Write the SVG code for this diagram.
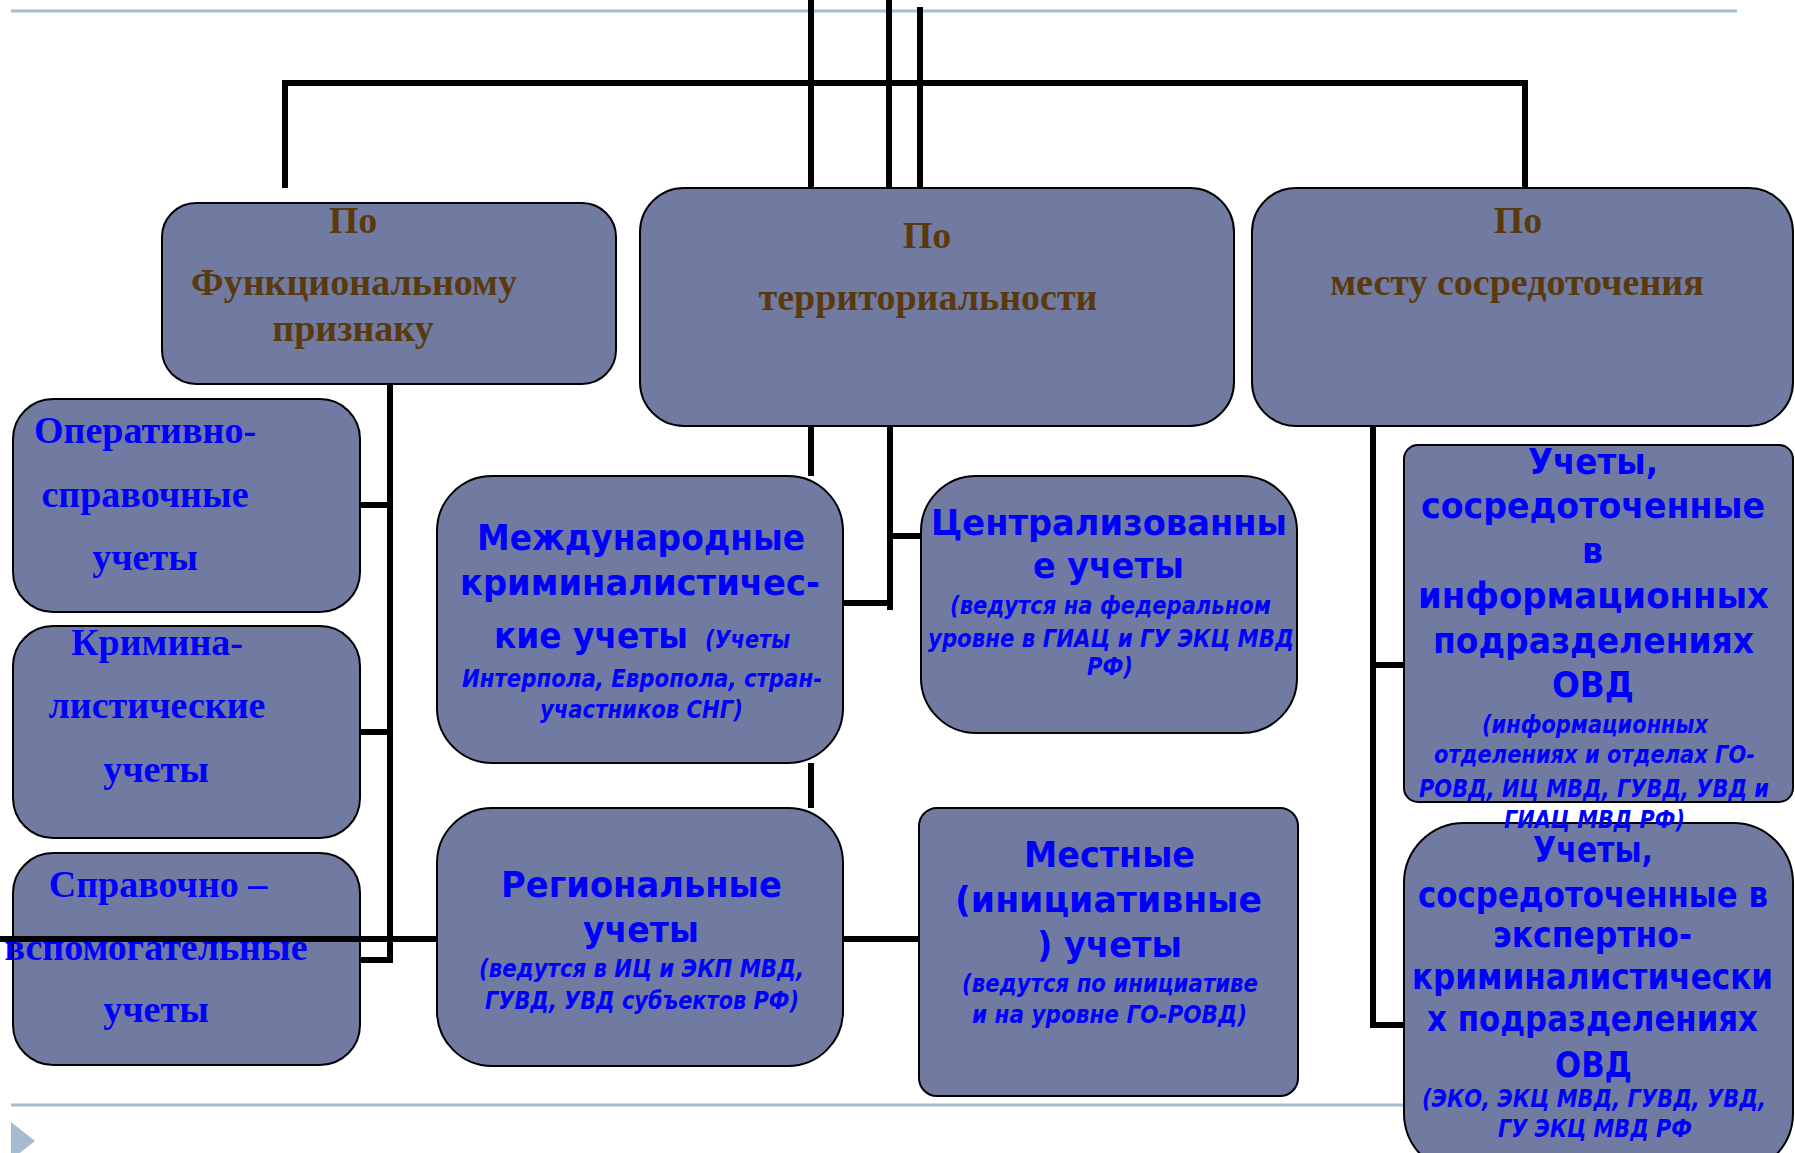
<svg xmlns="http://www.w3.org/2000/svg" width="1795" height="1153" viewBox="0 0 1795 1153">
<style>
.box{fill:#717ba1;stroke:#000;stroke-width:2}
.deco{stroke:#a5bbcf;stroke-width:3;fill:none}
.ttl{font-family:"Liberation Serif","Times New Roman",serif;font-weight:bold;font-size:38px;fill:#5a3a0c;text-anchor:middle}
.ser{font-family:"Liberation Serif","Times New Roman",serif;font-weight:bold;font-size:38px;fill:#0000ff;text-anchor:middle}
.b{font-family:"DejaVu Sans",Verdana,sans-serif;font-weight:bold;font-size:35px;fill:#0000ff}
.i{font-family:"DejaVu Sans",Verdana,sans-serif;font-weight:bold;font-style:italic;font-size:24px;fill:#0000ff}
.c{stroke:#000;stroke-width:6;fill:none}
</style>
<rect width="1795" height="1153" fill="#fff"/>
<g id="decor">
<line class="deco" x1="11" y1="11" x2="1737" y2="11"/>
<line class="deco" x1="11" y1="1105" x2="1737" y2="1105"/>
<polygon points="11,1122 35,1141 11,1160" fill="#a5bbcf"/>
</g>
<g id="node-func">
<rect class="box" x="162" y="203" width="454" height="181" rx="34"/>
<text class="ttl" x="353" y="233">По</text>
<text class="ttl" x="354" y="295">Функциональному</text>
<text class="ttl" x="353" y="341">признаку</text>
</g>
<g id="node-terr">
<rect class="box" x="640" y="188" width="594" height="238" rx="44"/>
<text class="ttl" x="927" y="248">По</text>
<text class="ttl" x="928" y="310">территориальности</text>
</g>
<g id="node-place">
<rect class="box" x="1252" y="188" width="541" height="238" rx="44"/>
<text class="ttl" x="1518" y="233">По</text>
<text class="ttl" x="1517" y="295">месту сосредоточения</text>
</g>
<g id="node-oper">
<rect class="box" x="13" y="399" width="347" height="213" rx="40"/>
<text class="ser" x="145" y="443">Оперативно-</text>
<text class="ser" x="145" y="507">справочные</text>
<text class="ser" x="145" y="570">учеты</text>
</g>
<g id="node-krim">
<rect class="box" x="13" y="626" width="347" height="212" rx="40"/>
<text class="ser" x="157" y="655">Кримина-</text>
<text class="ser" x="157" y="718">листические</text>
<text class="ser" x="156" y="782">учеты</text>
</g>
<g id="node-sprav">
<rect class="box" x="13" y="853" width="347" height="212" rx="40"/>
<text class="ser" x="158" y="897">Справочно –</text>
<text class="ser" x="156" y="960">вспомогательные</text>
<text class="ser" x="156" y="1022">учеты</text>
</g>
<g id="node-intl">
<rect class="box" x="437" y="476" width="406" height="287" rx="55"/>
<text class="b" x="477" y="550" textLength="328" lengthAdjust="spacingAndGlyphs">Международные</text>
<text class="b" x="460" y="595" textLength="360" lengthAdjust="spacingAndGlyphs">криминалистичес-</text>
<text class="b" x="494" y="648" textLength="194" lengthAdjust="spacingAndGlyphs">кие учеты</text>
<text class="i" x="705" y="648" textLength="85" lengthAdjust="spacingAndGlyphs">(Учеты</text>
<text class="i" x="462" y="687" textLength="360" lengthAdjust="spacingAndGlyphs">Интерпола, Европола, стран-</text>
<text class="i" x="540" y="718" textLength="203" lengthAdjust="spacingAndGlyphs">участников СНГ)</text>
</g>
<g id="node-central">
<rect class="box" x="921" y="476" width="376" height="257" rx="55"/>
<text class="b" x="931" y="535" textLength="356" lengthAdjust="spacingAndGlyphs">Централизованны</text>
<text class="b" x="1033" y="578" textLength="151" lengthAdjust="spacingAndGlyphs">е учеты</text>
<text class="i" x="950" y="614" textLength="321" lengthAdjust="spacingAndGlyphs">(ведутся на федеральном</text>
<text class="i" x="928" y="647" textLength="366" lengthAdjust="spacingAndGlyphs">уровне в ГИАЦ и ГУ ЭКЦ МВД</text>
<text class="i" x="1087" y="675" textLength="46" lengthAdjust="spacingAndGlyphs">РФ)</text>
</g>
<g id="node-region">
<rect class="box" x="437" y="808" width="406" height="258" rx="55"/>
<text class="b" x="501" y="897" textLength="281" lengthAdjust="spacingAndGlyphs">Региональные</text>
<text class="b" x="583" y="942" textLength="116" lengthAdjust="spacingAndGlyphs">учеты</text>
<text class="i" x="479" y="977" textLength="325" lengthAdjust="spacingAndGlyphs">(ведутся в ИЦ и ЭКП МВД,</text>
<text class="i" x="485" y="1009" textLength="314" lengthAdjust="spacingAndGlyphs">ГУВД, УВД субъектов РФ)</text>
</g>
<g id="node-local">
<rect class="box" x="919" y="808" width="379" height="288" rx="18"/>
<text class="b" x="1024" y="867" textLength="171" lengthAdjust="spacingAndGlyphs">Местные</text>
<text class="b" x="955" y="912" textLength="307" lengthAdjust="spacingAndGlyphs">(инициативные</text>
<text class="b" x="1037" y="957" textLength="145" lengthAdjust="spacingAndGlyphs">) учеты</text>
<text class="i" x="962" y="992" textLength="296" lengthAdjust="spacingAndGlyphs">(ведутся по инициативе</text>
<text class="i" x="972" y="1023" textLength="275" lengthAdjust="spacingAndGlyphs">и на уровне ГО-РОВД)</text>
</g>
<g id="node-expert">
<rect class="box" x="1404" y="823" width="389" height="350" rx="60"/>
<text class="b" x="1533" y="862" textLength="120" lengthAdjust="spacingAndGlyphs">Учеты,</text>
<text class="b" x="1418" y="907" textLength="350" lengthAdjust="spacingAndGlyphs">сосредоточенные в</text>
<text class="b" x="1493" y="947" textLength="199" lengthAdjust="spacingAndGlyphs">экспертно-</text>
<text class="b" x="1412" y="989" textLength="361" lengthAdjust="spacingAndGlyphs">криминалистически</text>
<text class="b" x="1427" y="1031" textLength="331" lengthAdjust="spacingAndGlyphs">х подразделениях</text>
<text class="b" x="1555" y="1077" textLength="77" lengthAdjust="spacingAndGlyphs">ОВД</text>
<text class="i" x="1422" y="1107" textLength="344" lengthAdjust="spacingAndGlyphs">(ЭКО, ЭКЦ МВД, ГУВД, УВД,</text>
<text class="i" x="1498" y="1137" textLength="194" lengthAdjust="spacingAndGlyphs">ГУ ЭКЦ МВД РФ</text>
</g>
<g id="node-info">
<rect class="box" x="1404" y="445" width="389" height="357" rx="14"/>
<text class="b" x="1528" y="474" textLength="130" lengthAdjust="spacingAndGlyphs">Учеты,</text>
<text class="b" x="1421" y="518" textLength="344" lengthAdjust="spacingAndGlyphs">сосредоточенные</text>
<text class="b" x="1582" y="563" textLength="21" lengthAdjust="spacingAndGlyphs">в</text>
<text class="b" x="1418" y="608" textLength="351" lengthAdjust="spacingAndGlyphs">информационных</text>
<text class="b" x="1433" y="653" textLength="321" lengthAdjust="spacingAndGlyphs">подразделениях</text>
<text class="b" x="1552" y="697" textLength="82" lengthAdjust="spacingAndGlyphs">ОВД</text>
<text class="i" x="1482" y="733" textLength="226" lengthAdjust="spacingAndGlyphs">(информационных</text>
<text class="i" x="1434" y="763" textLength="321" lengthAdjust="spacingAndGlyphs">отделениях и отделах ГО-</text>
<text class="i" x="1419" y="797" textLength="350" lengthAdjust="spacingAndGlyphs">РОВД, ИЦ МВД, ГУВД, УВД и</text>
<text class="i" x="1504" y="828" textLength="181" lengthAdjust="spacingAndGlyphs">ГИАЦ МВД РФ)</text>
</g>
<g id="connectors">
<line class="c" x1="811" y1="0" x2="811" y2="188"/>
<line class="c" x1="889" y1="0" x2="889" y2="188"/>
<line class="c" x1="920" y1="7" x2="920" y2="188"/>
<polyline class="c" points="285,188 285,83 1525,83 1525,188"/>
<line class="c" x1="390" y1="384" x2="390" y2="962"/>
<line class="c" x1="360" y1="505" x2="390" y2="505"/>
<line class="c" x1="360" y1="732" x2="390" y2="732"/>
<line class="c" x1="360" y1="960" x2="393" y2="960"/>
<line class="c" x1="0" y1="939" x2="437" y2="939"/>
<line class="c" x1="811" y1="426" x2="811" y2="476"/>
<line class="c" x1="811" y1="763" x2="811" y2="808"/>
<line class="c" x1="890" y1="426" x2="890" y2="610"/>
<line class="c" x1="843" y1="603" x2="890" y2="603"/>
<line class="c" x1="890" y1="536" x2="921" y2="536"/>
<line class="c" x1="843" y1="939" x2="919" y2="939"/>
<line class="c" x1="1373" y1="426" x2="1373" y2="1028"/>
<line class="c" x1="1373" y1="665" x2="1404" y2="665"/>
<line class="c" x1="1373" y1="1025" x2="1404" y2="1025"/>
</g>
</svg>
